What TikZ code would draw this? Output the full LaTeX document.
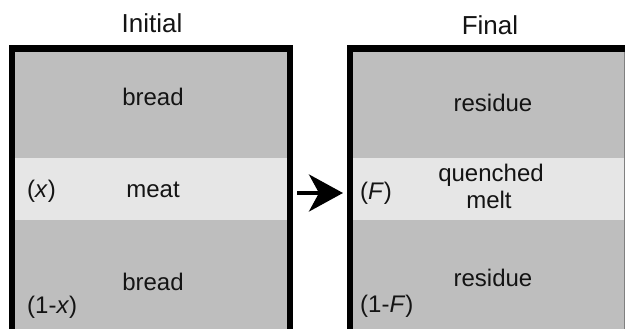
\documentclass[tikz,border=0pt]{standalone}
\usepackage{fontspec}
\setmainfont{Liberation Sans}
\usetikzlibrary{arrows.meta}
\definecolor{layergray}{RGB}{190,190,190}
\definecolor{bandgray}{RGB}{230,230,230}
\definecolor{inkc}{RGB}{20,20,20}
\tikzset{
  body/.style={font=\fontsize{24}{27}\selectfont, text=inkc, inner sep=0pt, anchor=base},
  title/.style={font=\fontsize{26}{29}\selectfont, text=inkc, inner sep=0pt, anchor=base},
  frac/.style={body, anchor=base west},
  frame/.style={line width=6.5pt, draw=black, line cap=butt, line join=miter},
}
\begin{document}
\begin{tikzpicture}[x=1pt,y=-1pt]
\useasboundingbox (0,0) rectangle (625,329);
\fill[white] (0,0) rectangle (625,329);
\clip (0,0) rectangle (625,329);
% left box
\fill[layergray] (12,48) rectangle (290,340);
\fill[bandgray] (15,158) rectangle (287,220);
\draw[frame] (12,340) -- (12,48.5) -- (290,48.5) -- (290,340);
% right box
\fill[layergray] (350,48) rectangle (640,340);
\fill[bandgray] (353,158) rectangle (640,220);
\draw[frame] (350,340) -- (350,48.5) -- (640,48.5);
\draw[gray, line width=1pt] (624,52) -- (624,340);
% titles
\node[title] (tinit) at (152,33) {Initial};
\node[title] (tfin) at (490,35) {Final};
% left texts
\node[body] (bread1) at (153,106) {bread};
\node[body] (meat) at (153,197) {meat};
\node[frac] (fx) at (27,197) {(\textit{x})};
\node[body] (bread2) at (153,290) {bread};
\node[frac] (f1x) at (27,313) {(1-\textit{x})};
% right texts
\node[body] (res1) at (493,112) {residue};
\node[body] (quen) at (491,182) {quenched};
\node[body] (melt) at (489,208) {melt};
\node[frac] (fF) at (360,200) {(\textit{F})};
\node[body] (res2) at (493,287) {residue};
\node[frac] (f1F) at (360,312) {(1-\textit{F})};
% arrow
\coordinate (a1) at (297,193);
\coordinate (a2) at (343,193);
\draw[line width=4pt, -{Stealth[length=34pt, width=37pt, inset=10pt]}] (a1) -- (a2);
\end{tikzpicture}
\end{document}
